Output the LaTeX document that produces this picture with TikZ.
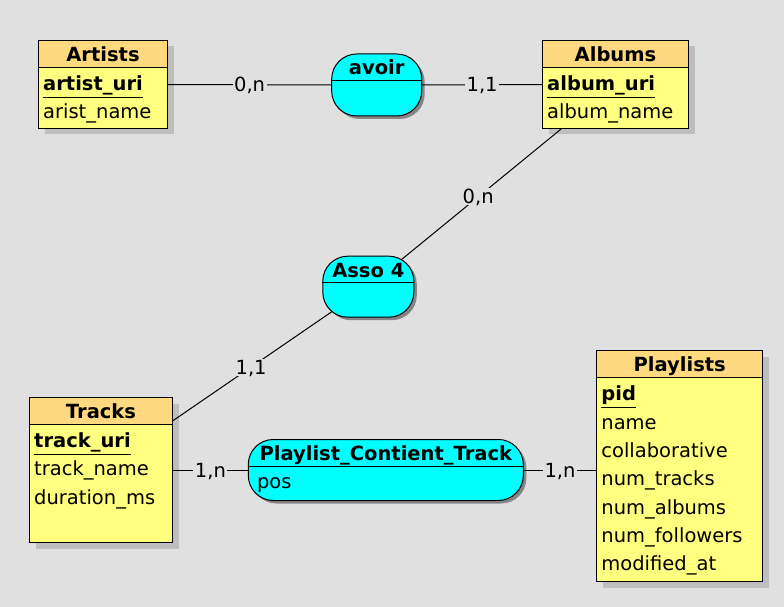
\documentclass[tikz,border=0pt]{standalone}
\usepackage{fontspec}
\setmainfont{DejaVu Sans}
\usetikzlibrary{calc,shadows}

\definecolor{bgcol}{RGB}{224,224,224}
\definecolor{entbody}{RGB}{255,255,128}
\definecolor{enthead}{RGB}{255,217,128}
\definecolor{assofill}{RGB}{0,255,255}
\definecolor{shadowcol}{RGB}{190,190,190}

\newcommand\erfont{\fontsize{19.5}{23}\selectfont}

\tikzset{
    entity/.style={draw, line width=1pt, fill=entbody, inner sep=0pt,
        drop shadow={shadow xshift=6pt, shadow yshift=-6pt, fill=shadowcol, opacity=1}},
    entitle/.style={draw, line width=1pt, fill=enthead, inner sep=0pt, anchor=north,
        minimum height=27pt, text height=15pt, text depth=0pt, font=\erfont\bfseries},
    asso/.style={draw, line width=1pt, fill=assofill, rounded corners=25pt, inner sep=0pt,
        drop shadow={shadow xshift=3pt, shadow yshift=-3pt, fill=shadowcol!70!black, opacity=1}},
    assotitle/.style={inner sep=0pt, text height=15pt, text depth=0pt, font=\erfont\bfseries},
    attr/.style={anchor=base west, inner sep=0pt, font=\erfont},
    keyattr/.style={anchor=base west, inner sep=0pt, font=\erfont\bfseries},
    keyline/.style={line width=1.3pt},
    link/.style={line width=1pt},
    card/.style={fill=bgcol, inner sep=1.5pt, text height=14pt, text depth=0pt, font=\erfont}
}

\begin{document}
\begin{tikzpicture}[x=1pt, y=-1pt]
    \fill[bgcol] (0,0) rectangle (784,607);

    % entities
    \node[entity, minimum width=129pt, minimum height=88pt] (artists) at (103,84.5) {};
    \node[entitle, minimum width=129pt] (artists-t) at (artists.north) {Artists};
    \node[keyattr] (artists-k) at ($(artists-t.south west)+(5,22.5)$) {artist\_uri};
    \node[attr] (artists-a1) at ($(artists-t.south west)+(5,50.8)$) {arist\_name};
    \draw[keyline] ([yshift=-6.8pt]artists-k.base west) -- ([yshift=-6.8pt]artists-k.base east);

    \node[entity, minimum width=146pt, minimum height=88pt] (albums) at (615.5,84.5) {};
    \node[entitle, minimum width=146pt] (albums-t) at (albums.north) {Albums};
    \node[keyattr] (albums-k) at ($(albums-t.south west)+(5,22.5)$) {album\_uri};
    \node[attr] (albums-a1) at ($(albums-t.south west)+(5,50.8)$) {album\_name};
    \draw[keyline] ([yshift=-6.8pt]albums-k.base west) -- ([yshift=-6.8pt]albums-k.base east);

    \node[entity, minimum width=143pt, minimum height=145pt] (tracks) at (101,470) {};
    \node[entitle, minimum width=143pt] (tracks-t) at (tracks.north) {Tracks};
    \node[keyattr] (tracks-k) at ($(tracks-t.south west)+(5,22.5)$) {track\_uri};
    \foreach \a [count=\i] in {track\_name,duration\_ms}
        \node[attr] (tracks-a\i) at ($(tracks-t.south west)+(5,22.5+28.3*\i)$) {\a};
    \draw[keyline] ([yshift=-6.8pt]tracks-k.base west) -- ([yshift=-6.8pt]tracks-k.base east);

    \node[entity, minimum width=166pt, minimum height=231pt] (pl) at (679.7,466.3) {};
    \node[entitle, minimum width=166pt] (pl-t) at (pl.north) {Playlists};
    \node[keyattr] (pl-k) at ($(pl-t.south west)+(5,22.5)$) {pid};
    \foreach \a [count=\i] in {name,collaborative,num\_tracks,num\_albums,num\_followers,modified\_at}
        \node[attr] (pl-a\i) at ($(pl-t.south west)+(5,22.5+28.3*\i)$) {\a};
    \draw[keyline] ([yshift=-6.8pt]pl-k.base west) -- ([yshift=-6.8pt]pl-k.base east);

    % links to Asso 4 go under the association
    \coordinate (asso4-c) at (368.3,286.7);
    \draw[link] (albums) -- (asso4-c) node[card, pos=0.43] (c-alb4) {0,n};
    \draw[link] (tracks) -- (asso4-c) node[card, pos=0.40] (c-tra4) {1,1};

    % associations
    \node[asso, minimum width=90pt, minimum height=62pt] (avoir) at (376.7,85) {};
    \node[assotitle] (avoir-t) at ($(avoir.north)+(0,14)$) {avoir};
    \draw[link] ($(avoir.north west)+(0,27)$) -- ($(avoir.north east)+(0,27)$);

    \node[asso, minimum width=91pt, minimum height=61pt] (asso4) at (asso4-c) {};
    \node[assotitle] (asso4-t) at ($(asso4.north)+(0,14)$) {Asso 4};
    \draw[link] ($(asso4.north west)+(0,27)$) -- ($(asso4.north east)+(0,27)$);

    \node[asso, minimum width=275pt, minimum height=61pt] (pct) at (385.8,470) {};
    \node[assotitle] (pct-t) at ($(pct.north)+(0,14)$) {Playlist\_Contient\_Track};
    \draw[link] ($(pct.north west)+(0,27)$) -- ($(pct.north east)+(0,27)$);
    \node[attr] (pct-a1) at ($(pct.north west)+(9,49.5)$) {pos};

    % links
    \draw[link] (artists) -- (avoir) node[card, midway] (c-art) {0,n};
    \draw[link] (avoir) -- (albums) node[card, midway] (c-alb) {1,1};
    \draw[link] (tracks) -- (pct) node[card, midway] (c-tra) {1,n};
    \draw[link] (pct) -- (pct -| pl.west) node[card, midway] (c-pl) {1,n};
\end{tikzpicture}
\end{document}
